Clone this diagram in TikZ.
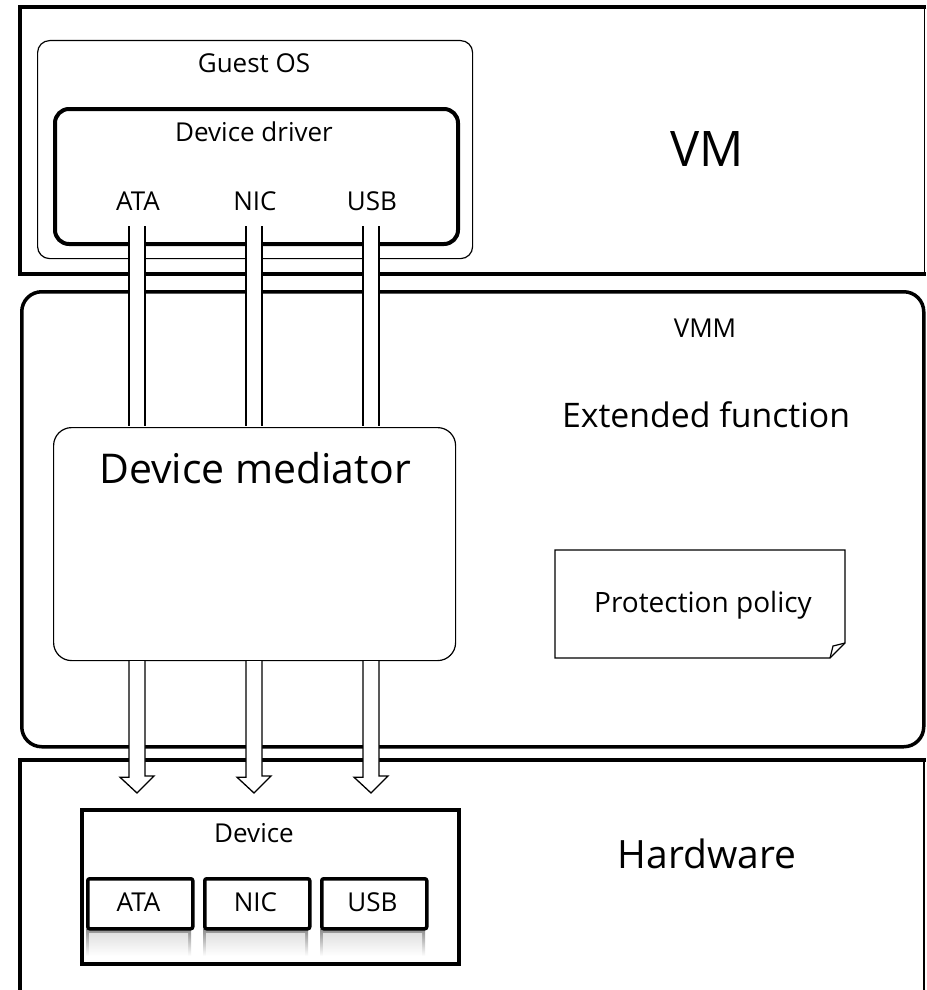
\documentclass[tikz,border=0pt]{standalone}
\usepackage{fontspec}
\setmainfont{Open Sans}
\usetikzlibrary{positioning,calc}
\newcommand{\fsz}[1]{\fontsize{#1}{#1}\selectfont}

\tikzset{
  heavy/.style={line width=3.5pt},
  light/.style={line width=1.2pt},
  box/.style={draw, fill=white, inner sep=0pt, anchor=north west},
  hollow/.style={line width=1.3pt, double=white, double distance=14.5pt},
  headarrow/.style={line width=1.3pt, fill=white, line join=miter},
  txt/.style={anchor=base, inner sep=0pt}
}

\begin{document}
\begin{tikzpicture}[x=1pt, y=-1pt, every node/.style={font=\fsz{26}}]
    \useasboundingbox (0,0) rectangle (926,990);

    % VM layer
    \draw[heavy] (926,7) -- (20,7) -- (20,274) -- (926,274);
    \draw[light] (924.5,7) -- (924.5,274);
    \node[txt, font=\fsz{49}] (vm) at (707,166) {VM};
    \node[box, light, rounded corners=12pt, minimum width=435pt, minimum height=218pt] (guest) at (37,40) {};
    \node[txt] (guestlbl) at (254,73) {Guest OS};
    \node[box, line width=4pt, rounded corners=14pt, minimum width=403pt, minimum height=135pt] (driver) at (53,107) {};
    \node[txt] (driverlbl) at (254,141) {Device driver};

    % VMM layer
    \node[box, heavy, rounded corners=20pt, minimum width=902pt, minimum height=455pt] (vmm) at (20,290) {};
    \node[txt] (vmmlbl) at (705,337) {VMM};
    \node[txt, font=\fsz{33.8}] (extfn) at (706,427) {Extended function};
    \node[box, light, rounded corners=18pt, minimum width=402pt, minimum height=233pt] (med) at (53,427) {};
    \node[txt, font=\fsz{41}] (medlbl) at (255,483) {Device mediator};
    \draw[light, fill=white] (555,550) -- (845,550) -- (845,643) -- (830,658) -- (555,658) -- cycle;
    \draw[light] (845,643) -- (833,646) -- (830,658);
    \node[txt, font=\fsz{28}] (policy) at (703,612) {Protection policy};

    % Hardware layer
    \draw[heavy] (20,995) -- (20,760) -- (926,760);
    \draw[light] (924,760) -- (924,995);
    \node[txt, font=\fsz{39}] (hw) at (707,868) {Hardware};
    \node[box, heavy, minimum width=377pt, minimum height=154pt] (device) at (80,808) {};
    \node[txt] (devicelbl) at (254,842) {Device};

    % ports and hollow arrows
    \foreach \n/\lbl [count=\i from 0] in {ata/ATA, nic/NIC, usb/USB} {
        \node[txt] (\n drv) at (138+\i*117, 210) {\lbl};
        \coordinate (\n in) at (137+\i*117, 226);
        \draw[hollow] (\n in) -- ($(\n in |- med.north)+(0,-0.6)$);
        \coordinate (\n tip) at (137+\i*117, 793);
        \draw[headarrow] ($(\n in |- med.south)+(-8,0)$) -- ++(0,116) -- ++(-9,0) -- (\n tip)
            -- ++(17,-17) -- ++(-9,0) -- ($(\n in |- med.south)+(8,0)$);
        % reflection under the device port
        \shade[top color=black!45, bottom color=white] (86+\i*117,929) rectangle (191+\i*117,956);
        \shade[top color=black!12, bottom color=white] (89+\i*117,933) rectangle (188+\i*117,956);
        \node[box, heavy, rounded corners=2pt, minimum width=105pt, minimum height=50pt] (\n dev) at (86+\i*117,877) {};
        \node[txt] (\n devlbl) at (138.5+\i*117,911) {\lbl};
    }
\end{tikzpicture}
\end{document}
